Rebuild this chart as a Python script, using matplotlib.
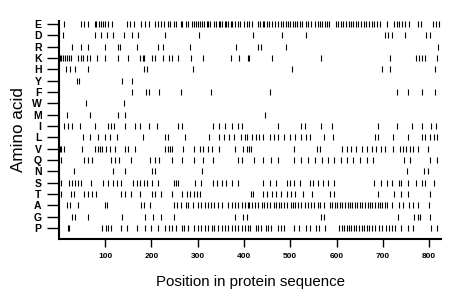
import matplotlib.pyplot as plt

plt.rcParams['font.family'] = ['Liberation Sans', 'DejaVu Sans']

# amino acids, top to bottom
acids = ['E', 'D', 'R', 'K', 'H', 'Y', 'F', 'W', 'M', 'I', 'L', 'V', 'Q', 'N', 'S', 'T', 'A', 'G', 'P']
seq_len = 826

# residue positions
E = [10, 48, 55, 64, 77, 81, 86, 91, 95, 100, 106, 114, 148, 153, 163, 178, 186, 195, 208, 214, 221,
     227, 235, 241, 248, 253, 263, 267, 274, 279, 287, 291, 296, 300, 305, 309, 314, 319, 323, 327,
     335, 339, 345, 349, 353, 358, 362, 366, 371, 375, 381, 387, 392, 400, 406, 411, 417, 430, 435,
     440, 444, 449, 454, 461, 467, 473, 480, 485, 490, 495, 500, 505, 510, 515, 521, 526, 534, 539,
     544, 554, 559, 564, 569, 574, 579, 584, 598, 604, 610, 615, 620, 626, 631, 636, 641, 647, 653,
     659, 664, 670, 676, 682, 688, 693, 708, 725, 730, 735, 741, 747, 757, 777, 783, 809, 814, 821]
D = [8, 77, 91, 104, 118, 140, 159, 172, 230, 302, 420, 483, 534, 704, 712, 719, 748, 794, 802]
R = [29, 48, 63, 100, 127, 133, 168, 214, 224, 284, 382, 431, 437, 490, 820]
K = [2, 5, 9, 13, 17, 22, 27, 42, 48, 53, 60, 68, 82, 100, 127, 149, 176, 181, 185, 201, 207, 226,
     237, 244, 258, 286, 312, 372, 389, 408, 411, 461, 566, 715, 771, 778, 785, 792, 818]
H = [15, 24, 35, 63, 183, 190, 289, 503, 699, 715, 812]
Y = [39, 43, 137, 157]
F = [159, 188, 195, 217, 264, 329, 456, 730, 755, 784, 812]
W = [58, 140]
M = [17, 68, 127, 142, 445]
I = [10, 19, 29, 46, 77, 106, 113, 120, 143, 165, 176, 195, 212, 257, 266, 332, 345, 359, 374, 387,
     395, 473, 523, 532, 566, 591, 690, 730, 762, 785, 805, 814]
L = [53, 68, 84, 100, 111, 125, 181, 230, 235, 273, 325, 345, 356, 368, 379, 394, 402, 406, 418, 427,
     432, 442, 456, 465, 474, 487, 499, 511, 523, 535, 542, 573, 593, 683, 690, 722, 755, 785, 791,
     802, 811, 818]
V = [2, 5, 10, 50, 78, 84, 89, 94, 101, 111, 122, 143, 150, 165, 230, 235, 240, 245, 269, 291, 305,
     312, 322, 330, 345, 381, 397, 410, 406, 415, 509, 557, 564, 611, 622, 632, 643, 654, 665, 676,
     686, 697, 704, 722, 737, 744, 751, 758, 766, 775, 798]
Q = [5, 55, 63, 71, 113, 122, 130, 156, 197, 207, 217, 245, 267, 291, 312, 334, 388, 395, 422, 442,
     458, 474, 509, 524, 539, 553, 568, 582, 595, 609, 622, 636, 650, 665, 679, 746, 758, 802, 818]
N = [32, 118, 143, 202, 208, 309, 753, 789, 797]
S = [1, 5, 21, 29, 35, 41, 48, 70, 96, 107, 116, 125, 135, 161, 168, 176, 183, 190, 201, 215, 248,
     253, 258, 294, 307, 334, 341, 352, 361, 374, 388, 442, 456, 470, 492, 499, 509, 521, 542, 550,
     559, 571, 582, 595, 681, 696, 708, 719, 735, 740, 755, 771, 784, 791, 811]
T = [5, 27, 32, 55, 63, 71, 80, 135, 142, 156, 176, 201, 207, 221, 244, 266, 276, 284, 291, 298, 305,
     415, 420, 442, 449, 460, 470, 481, 492, 501, 510, 528, 546, 586, 595, 690, 725, 740, 755, 802]
A = [17, 24, 42, 100, 104, 178, 185, 197, 248, 255, 264, 274, 280, 289, 300, 307, 315, 322, 329, 336,
     343, 352, 365, 374, 381, 387, 395, 402, 408, 411, 418, 424, 431, 438, 444, 449, 456, 465, 470,
     475, 481, 487, 494, 501, 506, 511, 517, 523, 532, 539, 545, 552, 559, 564, 573, 586, 591, 596,
     602, 607, 612, 618, 624, 629, 634, 640, 645, 650, 655, 661, 667, 672, 677, 683, 689, 694, 699,
     704, 710, 719, 735, 744, 756, 766, 775, 799]
G = [1, 29, 34, 64, 136, 186, 204, 221, 248, 381, 397, 406, 566, 573, 732, 768, 775, 780, 802]
P = [19, 22, 93, 101, 106, 113, 135, 147, 168, 186, 199, 215, 230, 237, 244, 253, 266, 271, 280, 293,
     300, 307, 315, 322, 330, 336, 343, 352, 358, 366, 374, 381, 388, 395, 402, 408, 413, 425, 431,
     437, 447, 452, 458, 473, 480, 487, 509, 519, 535, 542, 555, 562, 575, 605, 611, 617, 622, 627,
     632, 638, 643, 648, 654, 660, 665, 670, 676, 684, 691, 699, 706, 713, 720, 727, 740, 755, 766,
     805, 818]
positions = [E, D, R, K, H, Y, F, W, M, I, L, V, Q, N, S, T, A, G, P]

xticks = [100, 200, 300, 400, 500, 600, 700, 800]

fig = plt.figure(figsize=(4.6, 2.99), dpi=100)
ax = fig.add_axes([0.128, 0.2007, 0.831, 0.729])

for i, pos in enumerate(positions):
    ax.vlines(pos, i - 0.27, i + 0.27, color='black', lw=0.8)

ax.set_xlim(0, seq_len)
ax.set_ylim(18.97, -0.26)
ax.set_yticks(range(len(acids)))
ax.set_yticklabels(acids, fontsize=7.5, fontweight='bold')
ax.set_xticks(xticks)
ax.set_xticklabels([str(t) for t in xticks], fontsize=6, fontweight='bold')
ax.tick_params(axis='y', length=9, width=1, pad=3.5)
ax.tick_params(axis='x', length=6, width=1, pad=4)

for s in ['top', 'right']:
    ax.spines[s].set_visible(False)
for s in ['left', 'bottom']:
    ax.spines[s].set_linewidth(1.5)

ax.set_xlabel('Position in protein sequence', fontsize=10.8, labelpad=11)
ax.set_ylabel('Amino acid', fontsize=12.3, labelpad=4)

fig.savefig('out.png', dpi=100)
